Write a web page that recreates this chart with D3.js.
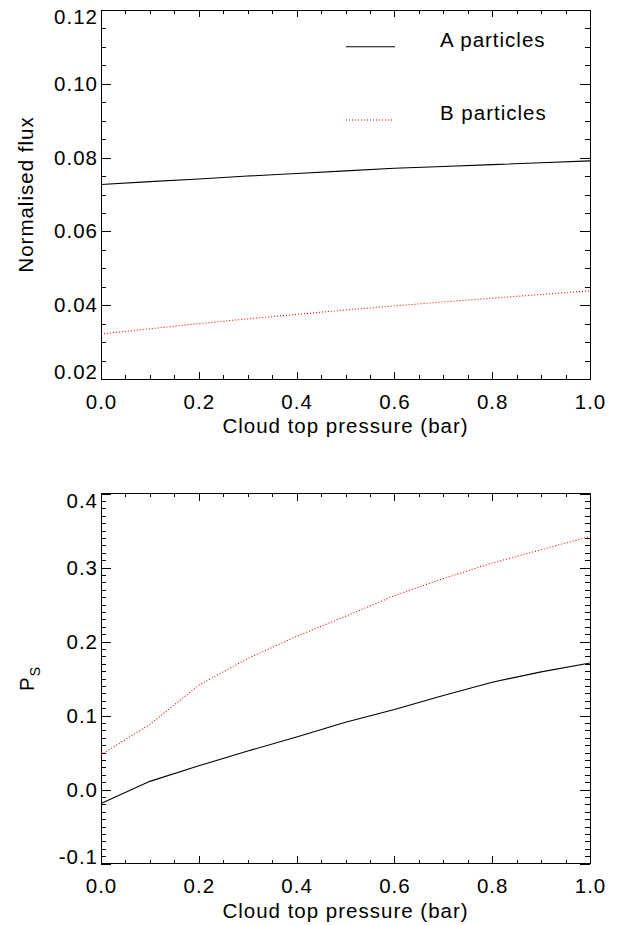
<!DOCTYPE html>
<html>
<head>
  <title>Cloud top pressure</title>
  <script src="https://cdn.jsdelivr.net/npm/d3@7"></script>
  <style>
    body { margin: 0; background: #fff; }
    text { font-family: "Liberation Sans", Arial, Helvetica, sans-serif; font-size: 20.5px; letter-spacing: 1px; fill: #000; }
  </style>
</head>
<body>
  <div id="chart"></div>
  <script>
    // pressure samples (bar)
    const pressure = [0.0, 0.1, 0.2, 0.3, 0.4, 0.5, 0.6, 0.7, 0.8, 0.9, 1.0];

    // top panel: normalised flux
    const fluxA = [0.0727, 0.0735, 0.0742, 0.0750, 0.0757, 0.0764, 0.0771, 0.0776, 0.0781, 0.0786, 0.0791];
    const fluxB = [0.0322, 0.0336, 0.0350, 0.0363, 0.0375, 0.0387, 0.0398, 0.0409, 0.0419, 0.0429, 0.0439];

    // bottom panel: P_S
    const psA = [-0.019, 0.011, 0.032, 0.052, 0.071, 0.091, 0.108, 0.127, 0.145, 0.159, 0.171];
    const psB = [0.047, 0.088, 0.141, 0.177, 0.207, 0.234, 0.262, 0.285, 0.306, 0.324, 0.342];

    const xTicks = [0.0, 0.2, 0.4, 0.6, 0.8, 1.0];
    const xTickLabels = ["0.0", "0.2", "0.4", "0.6", "0.8", "1.0"];
    const fluxTicks = [0.02, 0.04, 0.06, 0.08, 0.10, 0.12];
    const fluxTickLabels = ["0.02", "0.04", "0.06", "0.08", "0.10", "0.12"];
    const psTicks = [-0.1, 0.0, 0.1, 0.2, 0.3, 0.4];
    const psTickLabels = ["-0.1", "0.0", "0.1", "0.2", "0.3", "0.4"];

    const seriesNames = ["A particles", "B particles"];

    const width = 626, height = 925;
    const left = 101, right = 590;

    const svg = d3.select("#chart").append("svg")
      .attr("width", width)
      .attr("height", height);

    const x = d3.scaleLinear().domain([0, 1]).range([left, right]);

    function minorTicks(lo, hi, step) {
      const out = [];
      const n = Math.round((hi - lo) / step);
      for (let i = 0; i <= n; i++) out.push(+(lo + i * step).toFixed(6));
      return out;
    }

    function panel(top, bottom, yDomain, yTicks, yLabels, yMinorStep, dataA, dataB, yTitle) {
      const y = d3.scaleLinear().domain(yDomain).range([bottom, top]);
      const g = svg.append("g");
      const xMinor = minorTicks(0, 1, 0.05);
      const yMinor = minorTicks(yDomain[0], yDomain[1], yMinorStep);
      const xLen = 0.02 * (bottom - top);
      const yLen = 0.02 * (right - left);

      // bottom x axis
      const xb = g.append("g").attr("transform", `translate(0,${bottom})`)
        .call(d3.axisBottom(x).tickValues(xTicks).tickSize(-xLen)
          .tickFormat((d, i) => xTickLabels[i]));
      xb.selectAll("text").attr("y", 22.5).attr("dy", "0.35em");
      g.append("g").attr("transform", `translate(0,${bottom})`)
        .call(d3.axisBottom(x).tickValues(xMinor).tickSize(-xLen / 2).tickFormat(""));
      // top x axis
      g.append("g").attr("transform", `translate(0,${top})`)
        .call(d3.axisTop(x).tickValues(xTicks).tickSize(-xLen).tickFormat(""));
      g.append("g").attr("transform", `translate(0,${top})`)
        .call(d3.axisTop(x).tickValues(xMinor).tickSize(-xLen / 2).tickFormat(""));

      // left y axis
      const yl = g.append("g").attr("transform", `translate(${left},0)`)
        .call(d3.axisLeft(y).tickValues(yTicks).tickSize(-yLen)
          .tickFormat((d, i) => yLabels[i]));
      yl.selectAll("text").attr("x", -3)
        .attr("y", (d, i) => i === 0 ? -7 : (i === yTicks.length - 1 ? 7 : 0));
      g.append("g").attr("transform", `translate(${left},0)`)
        .call(d3.axisLeft(y).tickValues(yMinor).tickSize(-yLen / 2).tickFormat(""));
      // right y axis
      g.append("g").attr("transform", `translate(${right},0)`)
        .call(d3.axisRight(y).tickValues(yTicks).tickSize(-yLen).tickFormat(""));
      g.append("g").attr("transform", `translate(${right},0)`)
        .call(d3.axisRight(y).tickValues(yMinor).tickSize(-yLen / 2).tickFormat(""));

      g.selectAll(".domain").remove();
      g.selectAll(".tick line").attr("stroke", "#000").attr("shape-rendering", "crispEdges");
      g.selectAll(".tick text").style("font-size", "20.5px").style("font-family", null);

      // frame
      g.append("rect")
        .attr("x", left).attr("y", top)
        .attr("width", right - left).attr("height", bottom - top)
        .attr("fill", "none").attr("stroke", "#000")
        .attr("shape-rendering", "crispEdges");

      const line = d3.line().x((d, i) => x(pressure[i])).y(d => y(d));
      g.append("path").datum(dataA)
        .attr("d", line).attr("fill", "none")
        .attr("stroke", "#000").attr("stroke-width", 1.1);
      g.append("path").datum(dataB)
        .attr("d", line).attr("fill", "none")
        .attr("stroke", "#ff0000").attr("stroke-width", 1.1)
        .attr("stroke-dasharray", "1,2");

      // x title
      g.append("text")
        .attr("x", (left + right) / 2).attr("y", bottom + 47)
        .attr("dy", "0.35em").attr("text-anchor", "middle")
        .text("Cloud top pressure (bar)");

      return { g, y, cy: (top + bottom) / 2 };
    }

    const p1 = panel(10, 379, [0.02, 0.12], fluxTicks, fluxTickLabels, 0.005, fluxA, fluxB);
    p1.g.append("text")
      .attr("transform", `translate(26,${p1.cy}) rotate(-90)`)
      .attr("text-anchor", "middle").attr("dy", "0.35em")
      .text("Normalised flux");

    const p2 = panel(493.5, 863.5, [-0.1, 0.4], psTicks, psTickLabels, 0.01, psA, psB);
    const ps = p2.g.append("text")
      .attr("transform", `translate(27,${p2.cy}) rotate(-90)`)
      .attr("text-anchor", "middle").attr("dy", "0.35em");
    ps.append("tspan").text("P");
    ps.append("tspan").attr("dy", 6).style("font-size", "14px").text("S");

    // legend
    const legend = svg.append("g");
    const legY = [46.7, 120];
    legend.append("line")
      .attr("x1", 346).attr("x2", 395).attr("y1", legY[0]).attr("y2", legY[0])
      .attr("stroke", "#000").attr("stroke-width", 1.1);
    legend.append("line")
      .attr("x1", 346).attr("x2", 394).attr("y1", legY[1]).attr("y2", legY[1])
      .attr("stroke", "#ff0000").attr("stroke-width", 1.1).attr("stroke-dasharray", "1,2");
    legend.selectAll(".lab").data(seriesNames).enter().append("text")
      .attr("class", "lab")
      .attr("x", 440).attr("y", (d, i) => legY[i])
      .text(d => d);
  </script>
</body>
</html>
